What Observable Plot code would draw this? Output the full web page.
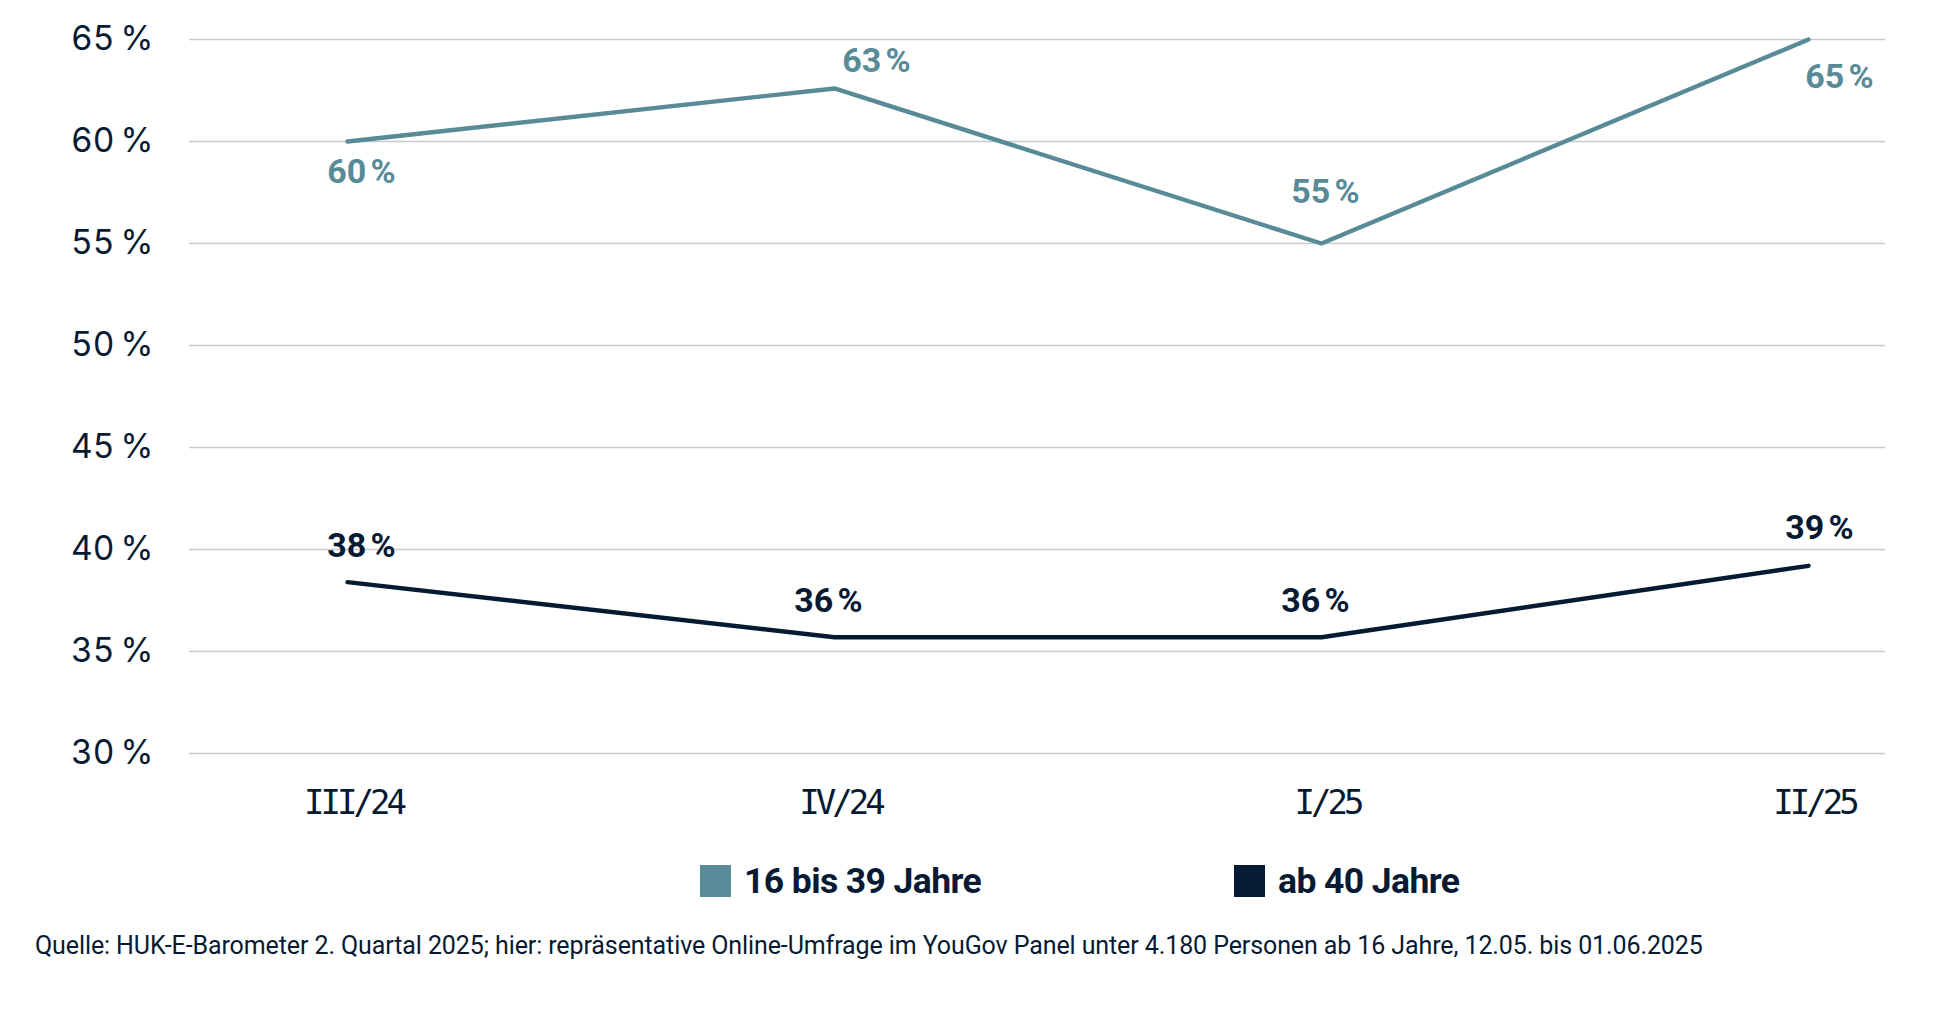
<!DOCTYPE html>
<html>
<head>
<meta charset="utf-8">
<script src="https://cdn.jsdelivr.net/npm/d3@7"></script>
<script src="https://cdn.jsdelivr.net/npm/@observablehq/plot@0.6"></script>
<style>
  html, body { margin: 0; padding: 0; background: #fff; }
  body { width: 1944px; height: 1018px; position: relative; overflow: hidden; font-family: Inter, "Noto Sans", sans-serif; color: #061a33; }
  #chart { position: absolute; left: 0; top: 0; }
  #legend { position: absolute; top: 860px; left: 0; width: 1944px; height: 36px; }
  .item { position: absolute; top: 0; display: flex; align-items: center; font-family: Roboto, sans-serif; font-weight: 700; font-size: 35.5px; letter-spacing: -0.6px; color: #061a33; }
  .sw { width: 31px; height: 32px; margin-right: 13px; }
  #caption { position: absolute; left: 35px; top: 931px; font-family: Roboto, sans-serif; font-size: 25px; color: #061a33; white-space: nowrap; letter-spacing: -0.1px; }
</style>
</head>
<body>
<div id="chart"></div>
<div id="legend"></div>
<div id="caption"></div>
<script>
const quarters = ["III/24", "IV/24", "I/25", "II/25"];
const young = [60, 62.6, 55, 65];
const older = [38.4, 35.7, 35.7, 39.2];
const youngLabels = ["60\u202F%", "63\u202F%", "55\u202F%", "65\u202F%"];
const olderLabels = ["38\u202F%", "36\u202F%", "36\u202F%", "39\u202F%"];
const seriesNames = ["16 bis 39 Jahre", "ab 40 Jahre"];
const seriesColors = ["#588b97", "#061a33"];
const yTicks = [30, 35, 40, 45, 50, 55, 60, 65];
const captionText = "Quelle: HUK-E-Barometer 2. Quartal 2025; hier: repräsentative Online-Umfrage im YouGov Panel unter 4.180 Personen ab 16 Jahre, 12.05. bis 01.06.2025";

// label offsets (style only)
const youngOffsets = [[14, 31], [42, -27], [4, -51], [31, 38]];
const olderOffsets = [[14, -36], [-6, -36], [-6, -36], [11, -38]];

const rows = [];
quarters.forEach((q, i) => {
  rows.push({q, v: young[i], s: seriesNames[0], label: youngLabels[i], i});
  rows.push({q, v: older[i], s: seriesNames[1], label: olderLabels[i], i});
});

const labelMarks = [];
rows.forEach(r => {
  const off = r.s === seriesNames[0] ? youngOffsets[r.i] : olderOffsets[r.i];
  labelMarks.push(Plot.text([r], {
    x: "q", y: "v", text: "label",
    dx: off[0], dy: off[1],
    fill: r.s === seriesNames[0] ? seriesColors[0] : seriesColors[1],
    fontFamily: "Roboto, sans-serif", fontWeight: 700, fontSize: 34,
    textAnchor: "middle", lineAnchor: "middle"
  }));
});

const chart = Plot.plot({
  width: 1944,
  height: 850,
  marginLeft: 189,
  marginRight: 59,
  marginTop: 39,
  marginBottom: 97,
  style: { fontFamily: "Inter, sans-serif", color: "#061a33", background: "transparent" },
  x: { type: "point", domain: quarters, range: [346, 1808], padding: 0, label: null },
  y: { domain: [30, 65], label: null },
  color: { domain: seriesNames, range: seriesColors },
  marks: [
    Plot.ruleY(yTicks, { stroke: "#c6cad3", strokeWidth: 1.3 }),
    Plot.axisY({ ticks: yTicks, tickFormat: d => d + "\u202F%", tickSize: 0, tickPadding: 36, fontSize: 33.5, label: null }),
    Plot.axisX({ tickSize: 0, tickPadding: 36, fontSize: 34, label: null, fontFamily: "'DejaVu Sans Mono', monospace", dx: 6 }),
    Plot.line(rows, { x: "q", y: "v", z: "s", stroke: "s", strokeWidth: 4.4, strokeLinecap: "round", strokeLinejoin: "round" }),
    ...labelMarks
  ]
});
document.getElementById("chart").appendChild(chart);
chart.querySelectorAll('g[aria-label="x-axis tick label"] text').forEach(t => t.setAttribute("letter-spacing", "-4"));

// Legend
const legendPos = [700, 1234];
const legend = document.getElementById("legend");
seriesNames.forEach((name, i) => {
  const it = document.createElement("div");
  it.className = "item";
  it.style.left = legendPos[i] + "px";
  const sw = document.createElement("div");
  sw.className = "sw";
  sw.style.background = seriesColors[i];
  it.appendChild(sw);
  const t = document.createElement("span");
  t.textContent = name;
  it.appendChild(t);
  legend.appendChild(it);
});
document.getElementById("caption").textContent = captionText;
</script>
</body>
</html>
